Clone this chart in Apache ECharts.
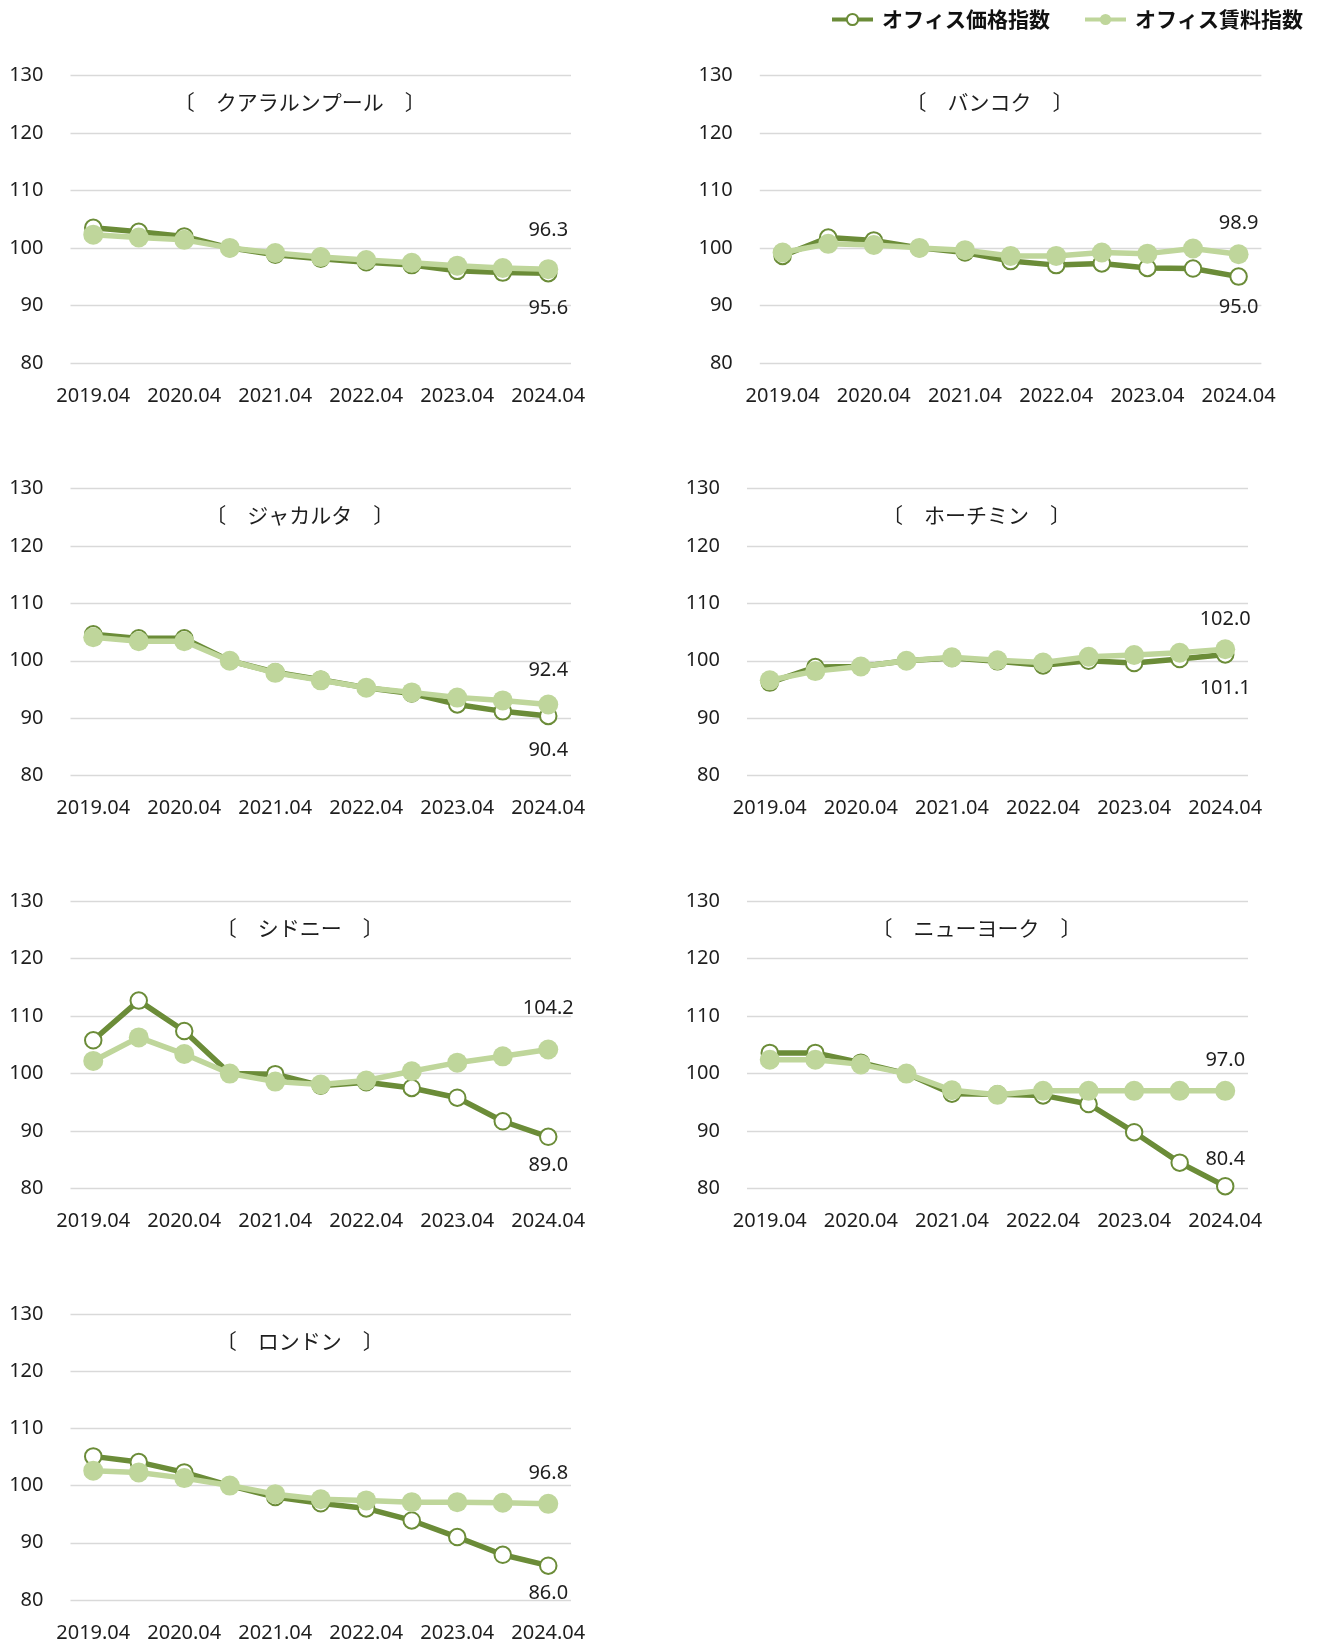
<!DOCTYPE html>
<html><head><meta charset="utf-8">
<script src="https://cdn.jsdelivr.net/npm/echarts@6/dist/echarts.min.js"></script>
<style>html,body{margin:0;padding:0;background:#fff}#c{width:1319px;height:1643px}</style>
</head><body><div id="c"></div>
<script>
// ---- data ----
const categories = ['2019.04','2019.10','2020.04','2020.10','2021.04','2021.10','2022.04','2022.10','2023.04','2023.10','2024.04'];
const PRICE_NAME = 'オフィス価格指数';
const RENT_NAME = 'オフィス賃料指数';
const cityTitles = ['〔　クアラルンプール　〕','〔　バンコク　〕','〔　ジャカルタ　〕','〔　ホーチミン　〕','〔　シドニー　〕','〔　ニューヨーク　〕','〔　ロンドン　〕'];

const klPrice   = [103.5, 102.8, 102.0, 100.0, 98.8, 98.1, 97.5, 97.0, 96.0, 95.7, 95.6];
const klRent    = [102.3, 101.8, 101.4, 100.0, 99.1, 98.4, 97.9, 97.4, 96.9, 96.5, 96.3];
const bkkPrice  = [98.6, 101.8, 101.3, 100.0, 99.2, 97.7, 97.0, 97.3, 96.5, 96.4, 95.0];
const bkkRent   = [99.2, 100.7, 100.5, 100.0, 99.6, 98.6, 98.6, 99.2, 99.0, 99.9, 98.9];
const jktPrice  = [104.6, 103.9, 103.9, 100.0, 98.0, 96.7, 95.3, 94.3, 92.4, 91.2, 90.4];
const jktRent   = [104.1, 103.4, 103.4, 100.0, 97.9, 96.6, 95.3, 94.5, 93.6, 93.1, 92.4];
const hcmPrice  = [96.2, 98.9, 99.0, 100.0, 100.5, 99.9, 99.2, 100.0, 99.6, 100.3, 101.1];
const hcmRent   = [96.6, 98.2, 99.0, 100.0, 100.6, 100.1, 99.7, 100.7, 101.0, 101.4, 102.0];
const sydPrice  = [105.8, 112.7, 107.4, 100.0, 99.9, 97.9, 98.5, 97.5, 95.8, 91.7, 89.0];
const sydRent   = [102.2, 106.3, 103.4, 100.0, 98.6, 98.1, 98.8, 100.4, 101.9, 103.0, 104.2];
const nycPrice  = [103.6, 103.6, 101.9, 100.0, 96.5, 96.4, 96.2, 94.7, 89.8, 84.5, 80.4];
const nycRent   = [102.4, 102.4, 101.6, 100.0, 97.1, 96.3, 97.0, 97.0, 97.0, 97.0, 97.0];
const lonPrice  = [105.1, 104.1, 102.3, 100.0, 98.0, 96.9, 96.0, 93.9, 91.0, 87.9, 86.0];
const lonRent   = [102.6, 102.3, 101.3, 100.0, 98.5, 97.6, 97.4, 97.1, 97.1, 97.0, 96.8];

const priceSets = [klPrice, bkkPrice, jktPrice, hcmPrice, sydPrice, nycPrice, lonPrice];
const rentSets  = [klRent, bkkRent, jktRent, hcmRent, sydRent, nycRent, lonRent];

// ---- layout / style ----
const DARK = '#6B8C38';
const LIGHT = '#BFD69B';
const TXT = '#1e1e1e';
const NUMF = "'Noto Sans', sans-serif";
const JPF = "'Noto Sans CJK JP', sans-serif";
const GH = 287.3;
const panels = [
  {left: 70.5, top: 75.5,  width: 500.5, priceDy: 35,  rentDy: -39},
  {left: 759.8,top: 75.5,  width: 501.6, priceDy: 31,  rentDy: -31},
  {left: 70.5, top: 488.4, width: 500.5, priceDy: 34,  rentDy: -34},
  {left: 747, top: 488.4,  width: 501,   priceDy: 34,  rentDy: -30},
  {left: 70.5, top: 901.2, width: 500.5, priceDy: 29,  rentDy: -41},
  {left: 747, top: 901.2,  width: 501,   priceDy: -27, rentDy: -31},
  {left: 70.5, top: 1313.9,width: 500.5, priceDy: 28,  rentDy: -31}
];

const grids = [], xAxes = [], yAxes = [], priceSeries = [], rentSeries = [], graphics = [];
panels.forEach((p, i) => {
  grids.push({left: p.left, top: p.top, width: p.width, height: GH, containLabel: false});
  xAxes.push({
    type: 'category', gridIndex: i, data: categories, boundaryGap: true,
    axisLine: {show: false}, axisTick: {show: false},
    axisLabel: {interval: 1, margin: 23, fontSize: 20, color: TXT, fontFamily: NUMF}
  });
  yAxes.push({
    type: 'value', gridIndex: i, min: 80, max: 130, interval: 10,
    axisLine: {show: false}, axisTick: {show: false},
    axisLabel: {margin: 27, fontSize: 20, color: TXT, fontFamily: NUMF},
    splitLine: {lineStyle: {color: '#d9d9d9', width: 1.3}}
  });
  const last = categories.length - 1;
  const mk = (arr, dy) => arr.map((v, k) => k === last ? {
    value: v,
    label: {show: true, position: 'inside', offset: [0, dy], formatter: (d) => d.value.toFixed(1),
      fontSize: 20, color: TXT, fontFamily: NUMF}
  } : v);
  priceSeries.push({
    name: PRICE_NAME, type: 'line', xAxisIndex: i, yAxisIndex: i,
    data: mk(priceSets[i], p.priceDy),
    symbol: 'emptyCircle', symbolSize: 16.5,
    lineStyle: {color: DARK, width: 5.5},
    itemStyle: {color: DARK, borderColor: DARK, borderWidth: 3.6},
    label: {show: false}, z: 2, animation: false
  });
  rentSeries.push({
    name: RENT_NAME, type: 'line', xAxisIndex: i, yAxisIndex: i,
    data: mk(rentSets[i], p.rentDy),
    symbol: 'circle', symbolSize: 20,
    lineStyle: {color: LIGHT, width: 5.5},
    itemStyle: {color: LIGHT},
    label: {show: false}, z: 3, animation: false
  });
  graphics.push({
    type: 'text',
    x: p.left + p.width / 2 - 21, y: p.top + 27,
    style: {text: cityTitles[i], fontSize: 21, fontFamily: JPF, fill: TXT,
      textAlign: 'center', textVerticalAlign: 'middle', verticalAlign: 'middle', align: 'center'}
  });
});

const chart = echarts.init(document.getElementById('c'), null, {renderer: 'canvas'});
chart.setOption({
  animation: false,
  backgroundColor: '#fff',
  legend: {
    data: [PRICE_NAME, RENT_NAME], right: 11, top: 4,
    itemWidth: 41, itemHeight: 14, itemGap: 33,
    lineStyle: {width: 4},
    textStyle: {fontSize: 21, fontWeight: 'bold', color: '#111', fontFamily: JPF, padding: [0, 0, 0, 4]}
  },
  grid: grids, xAxis: xAxes, yAxis: yAxes,
  series: priceSeries.concat(rentSeries),
  graphic: graphics
});
</script></body></html>
